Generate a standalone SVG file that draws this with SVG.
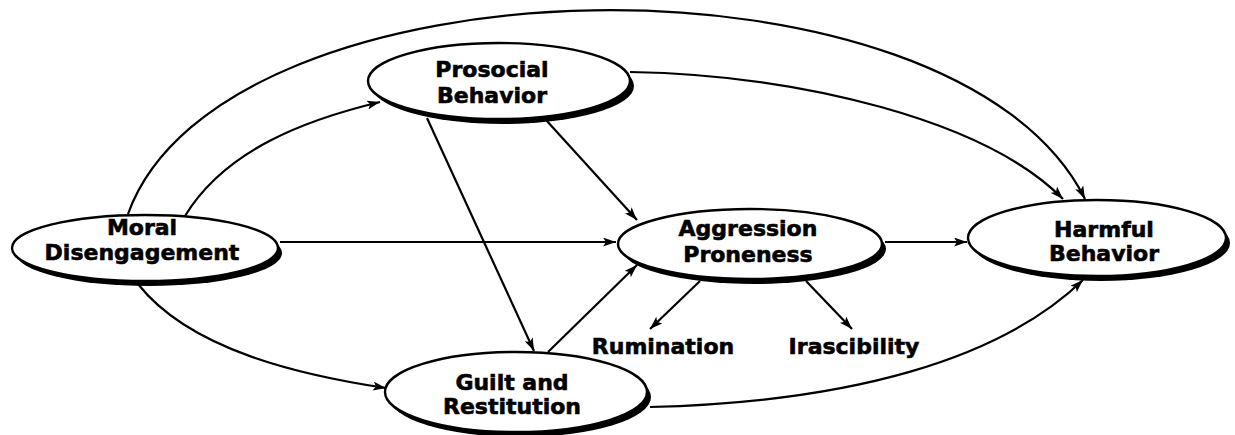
<svg xmlns="http://www.w3.org/2000/svg" width="1235" height="435" viewBox="0 0 1235 435">
<defs>
<marker id="ah" viewBox="0 0 13 9" refX="13" refY="4.5" markerWidth="13" markerHeight="9" markerUnits="userSpaceOnUse" orient="auto">
<path d="M0,0 L13,4.5 L0,9 L3,4.5 z" fill="#000"/>
</marker>
<style>
.sh{fill:#000;stroke:none}
.el{fill:#fff;stroke:#000;stroke-width:2.4}
.t{font-family:"DejaVu Sans","Liberation Sans",Arial,sans-serif;font-weight:bold;font-size:22px;fill:#000;stroke:#000;stroke-width:0.6;text-anchor:middle}
.c{fill:none;stroke:#000;stroke-width:2.2;marker-end:url(#ah)}
</style>
</defs>
<rect width="1235" height="435" fill="#fff"/>
<g id="connectors">
<path class="c" d="M128,214 C222,-48 955,-62 1085,199"/>
<path class="c" d="M185,216 C225,150 305,120 380,102"/>
<path class="c" d="M280,242 L616,242"/>
<path class="c" d="M138,284 C190,350 300,375 386,388"/>
<path class="c" d="M630,72 C800,75 985,120 1063,199"/>
<path class="c" d="M546,120 L637,220"/>
<path class="c" d="M427,118 L534,351"/>
<path class="c" d="M548,352 L637,265"/>
<path class="c" d="M650,407 C850,402 1000,360 1083,280"/>
<path class="c" d="M885,242 L967,242"/>
<path class="c" d="M700,281 L650,329"/>
<path class="c" d="M806,281 L852,329"/>
</g>
<g id="moral">
<ellipse class="sh" cx="149" cy="253" rx="133" ry="33"/>
<ellipse class="el" cx="145" cy="248" rx="133" ry="33"/>
<text class="t" x="142" y="235">Moral</text>
<text class="t" x="142" y="260">Disengagement</text>
</g>
<g id="prosocial">
<ellipse class="sh" cx="503" cy="86" rx="131" ry="38"/>
<ellipse class="el" cx="499" cy="81" rx="131" ry="38"/>
<text class="t" x="492" y="77">Prosocial</text>
<text class="t" x="492" y="103">Behavior</text>
</g>
<g id="aggression">
<ellipse class="sh" cx="754" cy="249" rx="132" ry="35"/>
<ellipse class="el" cx="750" cy="244" rx="132" ry="35"/>
<text class="t" x="748" y="236">Aggression</text>
<text class="t" x="748" y="262">Proneness</text>
</g>
<g id="harmful">
<ellipse class="sh" cx="1101" cy="243" rx="129" ry="38"/>
<ellipse class="el" cx="1097" cy="238" rx="129" ry="38"/>
<text class="t" x="1104" y="237">Harmful</text>
<text class="t" x="1104" y="261">Behavior</text>
</g>
<g id="guilt">
<ellipse class="sh" cx="520" cy="397" rx="131" ry="40"/>
<ellipse class="el" cx="516" cy="392" rx="131" ry="40"/>
<text class="t" x="512" y="390">Guilt and</text>
<text class="t" x="512" y="414">Restitution</text>
</g>
<g id="rumination">
<text class="t" x="663" y="354">Rumination</text>
</g>
<g id="irascibility">
<text class="t" x="854" y="354">Irascibility</text>
</g>
</svg>
